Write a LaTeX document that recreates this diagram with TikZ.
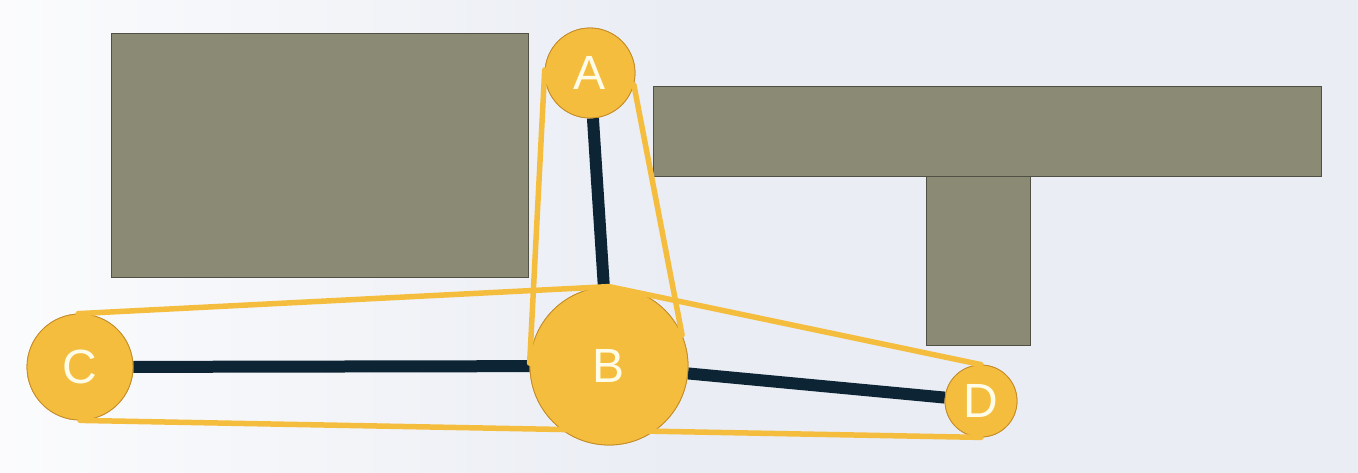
\documentclass[tikz,border=0pt]{standalone}
\usepackage{fontspec}
\setmainfont{Liberation Sans}
\definecolor{bgc}{RGB}{234,237,244}
\definecolor{boxc}{RGB}{139,138,117}
\definecolor{boxline}{RGB}{80,80,68}
\definecolor{gold}{RGB}{245,189,62}
\definecolor{goldline}{RGB}{196,140,40}
\definecolor{navy}{RGB}{12,36,52}
\definecolor{txt}{RGB}{255,253,232}
\begin{document}
\begin{tikzpicture}[x=1pt,y=-1pt,
  block/.style={fill=boxc,draw=boxline,line width=0.8pt},
  pulley/.style={circle,fill=gold,draw=goldline,line width=0.8pt,inner sep=0pt,
    text=txt,font=\fontsize{48}{50}\selectfont},
  link/.style={draw=navy,line width=12pt},
  belt/.style={draw=gold,line width=5.5pt,line cap=round}]
\shade[left color=white!80!bgc,right color=bgc,middle color=bgc] (0,0) rectangle (1358,473);
\useasboundingbox (0,0) rectangle (1358,473);
% blocks
\path[block] (111,33) rectangle (528,277);
\path[block] (653,86) rectangle (1321,176);
\path[block] (926,176) rectangle (1030,345);
% pulleys
\node[pulley,minimum size=90pt] (A) at (590,73) {A};
\node[pulley,minimum size=158pt] (B) at (609,366) {B};
\node[pulley,minimum size=106pt] (C) at (80,367) {C};
\node[pulley,minimum size=72pt] (D) at (981,401) {D};
% links
\path[link] (A) -- (B);
\path[link] (C) -- (B);
\path[link] (B) -- (D);
% redraw pulleys over links
\node[pulley,minimum size=90pt] at (A) {A};
\node[pulley,minimum size=158pt] at (B) {B};
\node[pulley,minimum size=106pt] at (C) {C};
\node[pulley,minimum size=72pt] at (D) {D};
% belts
\path[belt] (A.176) -- (B.178);
\path[belt] (A.-15) -- (B.23);
\path[belt] (C.92) -- (B.north);
\path[belt] (B.north) -- (D.north);
\path[belt] (C.south) -- (D.south);
\end{tikzpicture}
\end{document}
